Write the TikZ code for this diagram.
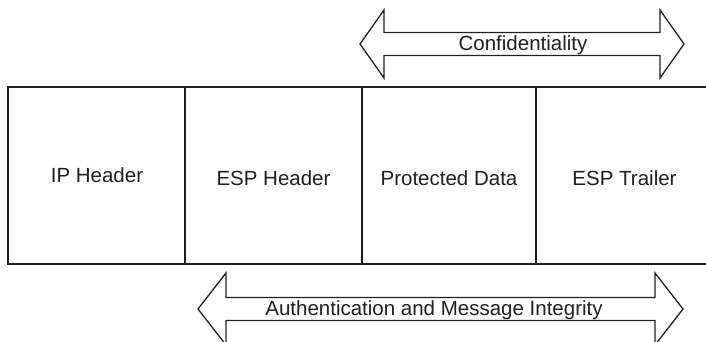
\documentclass[tikz,border=0pt]{standalone}
\usepackage{fontspec}
\setmainfont{Liberation Sans}
\begin{document}
\begin{tikzpicture}[x=1pt,y=-1pt,
  ln/.style={line width=1.4pt,draw=black!88},
  lbl/.style={font=\fontsize{20.5}{24}\selectfont,text=black!88,inner sep=0pt,anchor=center}]
\useasboundingbox (0,0) rectangle (706,342);
\clip (0,0) rectangle (706,342);
% packet box
\draw[ln] (706,87) -- (8,87) -- (8,264) -- (706,264);
\draw[ln] (185,87) -- (185,264);
\draw[ln] (362,87) -- (362,264);
\draw[ln] (536,87) -- (536,264);
\node[lbl] (ip)  at (97,175.5) {IP Header};
\node[lbl] (esp) at (273.5,178.5) {ESP Header};
\node[lbl] (pd)  at (449,178.5) {Protected Data};
\node[lbl] (tr)  at (624.5,178.5) {ESP Trailer};
% confidentiality arrow
\draw[ln,line width=1.3pt,line join=miter] (360,44) -- (384,10) -- (384,32.5) -- (660,32.5) -- (660,10) -- (684,44)
  -- (660,78) -- (660,55.5) -- (384,55.5) -- (384,78) -- cycle;
\node[lbl] (conf) at (523,45.5) {Confidentiality};
% authentication arrow
\draw[ln,line width=1.3pt,line join=miter] (198,309) -- (226,273) -- (226,297.5) -- (655,297.5) -- (655,273) -- (683,309)
  -- (655,345) -- (655,320.5) -- (226,320.5) -- (226,345) -- cycle;
\node[lbl] (auth) at (434,310.5) {Authentication and Message Integrity};
\end{tikzpicture}
\end{document}
